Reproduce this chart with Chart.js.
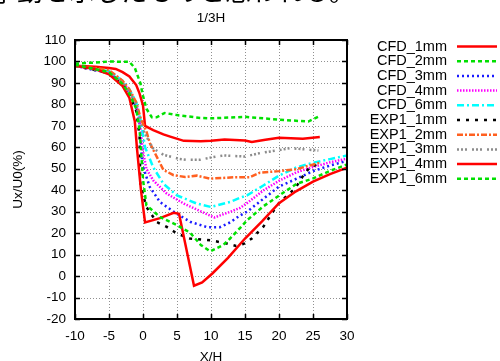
<!DOCTYPE html>
<html>
<head>
<meta charset="utf-8">
<script src="https://cdn.jsdelivr.net/npm/chart.js@4"></script>
<style>
  html, body { margin: 0; padding: 0; background: #ffffff; }
  #wrap { width: 500px; height: 361px; position: relative; overflow: hidden; }
</style>
</head>
<body>
<div id="wrap"><canvas id="c" width="500" height="361"></canvas></div>
<script>
// ---------- data ----------
const seriesNames = ["CFD_1mm","CFD_2mm","CFD_3mm","CFD_4mm","CFD_6mm",
                     "EXP1_1mm","EXP1_2mm","EXP1_3mm","EXP1_4mm","EXP1_6mm"];

const cfd1X = [-10,-7,-5,-4,-3,-2,-1,-0.5,0,0.3,1.5,3,4,6,8.5,10,12,15,16,18,20,23.5,26];
const cfd1Y = [98,97.5,97,96.5,95,93,89,85,79.5,70,68,66,65,63,62.8,63,63.6,63.2,62.5,63.5,64.5,64,64.8];

const cfd2X = [-10,-7,-5,-2,-1.2,-0.4,0,0.5,1.3,2,3.2,5,8.4,10,15,20,24.3,25.9];
const cfd2Y = [99,99.5,100,99.8,97,90,84,78,74,74,76,75,73.7,73.5,74.2,72.9,72,74.4];

const cfd3X = [-10,-5,-3,-2,-1,-0.5,-0.1,1,2.5,4.5,7,9.5,11.3,12.8,14.3,15.3,17.7,20,22.6,25,27.5,30];
const cfd3Y = [98,94.5,90,85.5,79,71,52,41.5,34.5,30,25.2,22.7,22.8,25,28.3,30,36,41.7,45.4,48.9,51.5,53.7];

const cfd4X = [-10,-5,-3,-2,-1,-0.5,0,0.5,1.5,3.5,6,9,10.5,12.8,14.3,15.3,17.7,20,22.6,25,27.5,30];
const cfd4Y = [98,95,90.5,86,80,72,58,50,44.6,38.4,33.8,29.4,27.3,29.9,31.8,34,39.9,44.4,48.4,50.8,53,54.7];

const cfd6X = [-10,-5,-3,-2,-1,-0.3,0.3,1.5,3,5,7.9,10,12.8,14.3,15.3,17.7,20,22.6,25,27.5,30];
const cfd6Y = [98,95.5,91,87,81,72,60,50.7,43,37.6,33.8,32.2,34.5,36.5,37.6,42.2,46.8,50.7,52.8,54.5,56.2];

const exp1X = [-10,-5,-3,-2,-1,-0.5,-0.4,0.5,2,3.5,5,6.9,9.9,12.3,13.7,14.8,16,17.7,19,20,22.4,23.6,24.6,25.5];
const exp1Y = [98,94.5,89,84.5,77,65,43,32.2,25.2,22.9,19.8,17.5,16.7,15.2,14,15,17.5,23,29.5,34,41,47,51,51.8];

const exp2X = [-10,-6,-5,-3,-2,-1,-0.3,0.5,1,1.8,3,4.5,6.2,7.9,9.9,13.3,15.7,17.2,20,22.6,24.2,26];
const exp2Y = [98,96.5,96,91,87,81,73,67.5,62,57,49.5,47,46.2,46.8,45.4,46,46.1,48.2,48.9,49.8,51.3,52.8];

const exp3X = [-10,-5,-3,-2,-1,-0.4,0.2,1,1.5,3,5.4,6.4,8.4,9.9,11.8,15,17.2,20,21.6,25.8];
const exp3Y = [98,95,90,86,80,71,67,62,59.5,56.5,54.6,54.2,54.2,55.2,56.2,55.7,57.3,58.7,59.6,58.5];

const exp4X = [-10,-7,-5,-3,-2,-1.2,-0.9,-0.3,0.3,2.5,4.5,5.3,7.5,8.7,10.2,12.5,15,17.5,20,22.5,25,27.5,30];
const exp4Y = [98,96.5,94,88.5,83,72,60,40,25,27,29.5,29,-4.5,-3,1.2,8.5,17.5,25.5,34,39.5,44,47.5,50.5];

const exp6X = [-10,-5,-3,-2,-1,-0.5,0,0.5,2.5,5,6.9,8.5,9.9,11.8,12.8,14.3,15.3,17.7,20,22.6,25,27.5,30];
const exp6Y = [98.5,95,89.5,85,78,68,45,33,27.5,23.7,20.3,14.5,11.5,14.5,17.5,22.5,26,32.5,37.5,43,45.5,49,52];

const xTicks = [-10,-5,0,5,10,15,20,25,30];
const yTicks = [-20,-10,0,10,20,30,40,50,60,70,80,90,100,110];

const titleText = "1/3H";
const xTitle = "X/H";
const yTitle = "Ux/U0(%)";
const topText = "挙動を示したものと思われる。";

// ---------- styles ----------
const seriesXs = [cfd1X,cfd2X,cfd3X,cfd4X,cfd6X,exp1X,exp2X,exp3X,exp4X,exp6X];
const seriesYs = [cfd1Y,cfd2Y,cfd3Y,cfd4Y,cfd6Y,exp1Y,exp2Y,exp3Y,exp4Y,exp6Y];
const colors = ["#ff0000","#00e000","#1a1aff","#ff00ff","#00ffff","#000000","#ff6020","#8c8c8c","#ff0000","#00e000"];
const dashes = [[],[4,3],[2,3],[1.5,1.5],[7,3,2,3],[3,6],[6,2,2,2],[2,2,2,2,2,5],[],[4,3]];
const widths = [2.5,2.5,2.5,2.5,2.5,2.5,2.5,2.5,2.5,2.5];

const datasets = seriesNames.map((name, i) => ({
  label: name,
  data: seriesXs[i].map((x, k) => ({ x: x, y: seriesYs[i][k] })),
  borderColor: colors[i],
  backgroundColor: colors[i],
  borderDash: dashes[i],
  borderWidth: widths[i],
  pointRadius: 0,
  tension: 0,
  fill: false,
  order: -i
}));

const FONT = "'Liberation Sans', Arial, sans-serif";

const decorPlugin = {
  id: 'decor',
  beforeDatasetsDraw(chart) {
    // dotted grid
    const ctx = chart.ctx;
    const a = chart.chartArea;
    const xs = chart.scales.x, ys = chart.scales.y;
    ctx.save();
    ctx.strokeStyle = '#909090';
    ctx.lineWidth = 1;
    ctx.setLineDash([1, 2]);
    xTicks.slice(1, -1).forEach(v => {
      const p = Math.round(xs.getPixelForValue(v)) + 0.5;
      ctx.beginPath(); ctx.moveTo(p, a.top); ctx.lineTo(p, a.bottom); ctx.stroke();
    });
    yTicks.slice(1, -1).forEach(v => {
      const p = Math.round(ys.getPixelForValue(v)) + 0.5;
      ctx.beginPath(); ctx.moveTo(a.left, p); ctx.lineTo(a.right, p); ctx.stroke();
    });
    ctx.restore();
  },
  afterDatasetsDraw(chart) {
    const ctx = chart.ctx;
    const a = chart.chartArea;
    const xs = chart.scales.x, ys = chart.scales.y;
    ctx.save();
    // inward tick marks on all four sides
    ctx.strokeStyle = '#000';
    ctx.lineWidth = 1.5;
    ctx.setLineDash([]);
    const L = 5;
    xTicks.forEach(v => {
      const p = Math.round(xs.getPixelForValue(v)) + 0.5;
      ctx.beginPath();
      ctx.moveTo(p, a.top); ctx.lineTo(p, a.top + L);
      ctx.moveTo(p, a.bottom); ctx.lineTo(p, a.bottom - L);
      ctx.stroke();
    });
    yTicks.forEach(v => {
      const p = Math.round(ys.getPixelForValue(v)) + 0.5;
      ctx.beginPath();
      ctx.moveTo(a.left, p); ctx.lineTo(a.left + L, p);
      ctx.moveTo(a.right, p); ctx.lineTo(a.right - L, p);
      ctx.stroke();
    });
    // frame
    ctx.lineWidth = 2;
    ctx.strokeRect(a.left, a.top, a.right - a.left, a.bottom - a.top);
    ctx.restore();
  },
  afterDraw(chart) {
    const ctx = chart.ctx;
    const a = chart.chartArea;
    ctx.save();
    // cut-off Japanese line at the very top
    ctx.fillStyle = '#000';
    ctx.font = "26px 'Noto Sans CJK JP'";
    ctx.textAlign = 'left';
    ctx.textBaseline = 'alphabetic';
    ctx.fillText(topText, -9, 1);
    // chart title
    ctx.font = "13.5px " + FONT;
    ctx.textAlign = 'center';
    ctx.textBaseline = 'middle';
    ctx.fillText(titleText, (a.left + a.right) / 2, 18);
    // legend (gnuplot style: text right-aligned, sample line on the right)
    ctx.font = "14.5px " + FONT;
    ctx.textAlign = 'right';
    chart.data.datasets.forEach((ds, i) => {
      const y = 46.5 + i * 14.7;
      ctx.fillStyle = '#000';
      ctx.fillText(ds.label, 447, y);
      ctx.strokeStyle = ds.borderColor;
      ctx.lineWidth = ds.borderWidth;
      ctx.setLineDash(ds.borderDash);
      ctx.beginPath();
      ctx.moveTo(457, y);
      ctx.lineTo(497, y);
      ctx.stroke();
    });
    ctx.restore();
  }
};

new Chart(document.getElementById('c'), {
  type: 'line',
  data: { datasets: datasets },
  options: {
    responsive: false,
    animation: false,
    events: [],
    layout: { padding: { left: 0, right: 153, top: 40, bottom: 0 } },
    plugins: { legend: { display: false }, title: { display: false }, tooltip: { enabled: false } },
    scales: {
      x: {
        type: 'linear',
        min: -10, max: 30,
        afterFit(s) { s.height = 42; },
        afterBuildTicks(s) { s.ticks = xTicks.map(v => ({ value: v })); },
        ticks: { color: '#000', font: { family: FONT, size: 13.5 }, padding: 9, maxRotation: 0 },
        grid: { display: false, drawTicks: false },
        border: { display: false },
        title: { display: true, text: xTitle, color: '#000', font: { family: FONT, size: 13.5, lineHeight: 1 }, padding: { top: 0, bottom: -3 } }
      },
      y: {
        type: 'linear',
        min: -20, max: 110,
        afterFit(s) { s.width = 75; },
        afterBuildTicks(s) { s.ticks = yTicks.map(v => ({ value: v })); },
        ticks: { color: '#000', font: { family: FONT, size: 13.5 }, padding: 9 },
        grid: { display: false, drawTicks: false },
        border: { display: false },
        title: { display: true, text: yTitle, color: '#000', font: { family: FONT, size: 13.5, lineHeight: 1 }, padding: { top: 12, bottom: 0 } }
      }
    }
  },
  plugins: [decorPlugin]
});
</script>
</body>
</html>
